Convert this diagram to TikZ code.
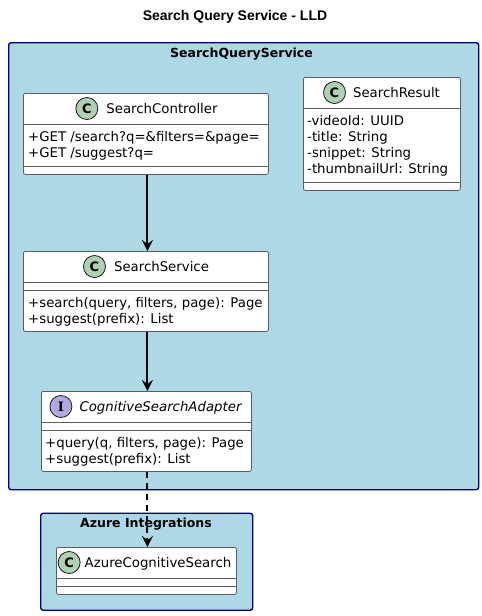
\documentclass[tikz,border=0pt]{standalone}
\usepackage{fontspec}
\setmainfont{DejaVu Sans}
\newfontfamily\titlefont{Liberation Sans}
\newfontfamily\iconserif{DejaVu Serif}
\usetikzlibrary{positioning,arrows.meta}
\definecolor{pkgfill}{HTML}{ADD8E6}
\definecolor{pkgline}{HTML}{000080}
\definecolor{classicon}{HTML}{ADD1B2}
\definecolor{ifaceicon}{HTML}{B4A7E5}
\definecolor{umlline}{HTML}{181818}

\begin{document}
\begin{tikzpicture}[x=1pt, y=-1pt, node distance=8pt]
        % Define styles
        \tikzstyle{package} = [rectangle, anchor=north west, rounded corners=2.5pt, draw=pkgline, line width=1.4pt, fill=pkgfill]
        \tikzstyle{pkglabel} = [inner sep=0pt, text height=9.2pt, text depth=0pt, font=\bfseries\fontsize{12.5}{14}\selectfont]
        \tikzstyle{classbox} = [rectangle, anchor=north west, rounded corners=2pt, draw=umlline!70, line width=0.8pt, fill=white]
        \tikzstyle{classname} = [inner sep=0pt, text height=9.7pt, text depth=0pt, font=\fontsize{13.3}{16}\selectfont]
        \tikzstyle{member} = [inner sep=0pt, anchor=base west, font=\fontsize{13.3}{16}\selectfont]
        \tikzstyle{cicon} = [circle, minimum size=22pt, inner sep=0pt, draw=umlline, line width=0.8pt, fill=classicon, font=\bfseries\fontsize{13}{13}\selectfont]
        \tikzstyle{iicon} = [cicon, fill=ifaceicon, font=\iconserif\bfseries\fontsize{13}{13}\selectfont]
        \tikzstyle{divider} = [draw=umlline!70, line width=0.8pt]
        \tikzstyle{arrow} = [line width=1.9pt, -{Stealth[length=11pt, width=11pt, inset=4pt]}]

        \useasboundingbox (0,0) rectangle (482,616);

        % Title
        \node [font=\titlefont\bfseries\fontsize{14}{16}\selectfont] (title) at (235,17) {Search Query Service - LLD};

        % Packages
        \node [package, minimum width=470, minimum height=447] (sqs) at (8,42) {};
        \node [pkglabel] (sqslabel) at (241.5,53) {SearchQueryService};
        \node [package, minimum width=212, minimum height=97] (azure) at (40,512.5) {};
        \node [pkglabel] (azurelabel) at (146,523) {Azure Integrations};

        % SearchController
        \node [classbox, minimum width=245, minimum height=81] (ctrl) at (23,93) {};
        \node [classname] (ctrlname) at (162,108.5) {SearchController};
        \node [cicon, left=of ctrlname] (ctrlicon) {C};
        \draw [divider] ([yshift=-31]ctrl.north west) -- ([yshift=-31]ctrl.north east);
        \draw [divider] ([yshift=8]ctrl.south west) -- ([yshift=8]ctrl.south east);
        \node [member] (ctrlf1) at (28,141) {+GET /search?q=\&filters=\&page=};
        \node [member] (ctrlf2) at (28,157) {+GET /suggest?q=};

        % SearchResult
        \node [classbox, minimum width=157, minimum height=113] (result) at (303,77) {};
        \node [classname] (resultname) at (396.5,92.5) {SearchResult};
        \node [cicon, left=7pt of resultname] (resulticon) {C};
        \draw [divider] ([yshift=-31]result.north west) -- ([yshift=-31]result.north east);
        \draw [divider] ([yshift=8]result.south west) -- ([yshift=8]result.south east);
        \node [member] (resultf1) at (307,125) {-videoId: UUID};
        \node [member] (resultf2) at (307,141) {-title: String};
        \node [member] (resultf3) at (307,157) {-snippet: String};
        \node [member] (resultf4) at (307,173) {-thumbnailUrl: String};

        % SearchService
        \node [classbox, minimum width=245, minimum height=80] (svc) at (23,251) {};
        \node [classname] (svcname) at (161.5,266.5) {SearchService};
        \node [cicon, left=of svcname] (svcicon) {C};
        \draw [divider] ([yshift=-31]svc.north west) -- ([yshift=-31]svc.north east);
        \draw [divider] ([yshift=-39]svc.north west) -- ([yshift=-39]svc.north east);
        \node [member] (svcm1) at (28,307) {+search(query, filters, page): Page};
        \node [member] (svcm2) at (28,323) {+suggest(prefix): List};

        % CognitiveSearchAdapter
        \node [classbox, minimum width=210, minimum height=80] (adapter) at (41,391) {};
        \node [classname, font=\itshape\fontsize{13.3}{16}\selectfont] (adaptername) at (160.5,406.5) {CognitiveSearchAdapter};
        \node [iicon, left=7pt of adaptername] (adaptericon) {I};
        \draw [divider] ([yshift=-31]adapter.north west) -- ([yshift=-31]adapter.north east);
        \draw [divider] ([yshift=-39]adapter.north west) -- ([yshift=-39]adapter.north east);
        \node [member] (adapterm1) at (45,447) {+query(q, filters, page): Page};
        \node [member] (adapterm2) at (45,463) {+suggest(prefix): List};

        % AzureCognitiveSearch
        \node [classbox, minimum width=180, minimum height=47] (acs) at (56,547) {};
        \node [classname] (acsname) at (158,562.5) {AzureCognitiveSearch};
        \node [cicon, left=4pt of acsname] (acsicon) {C};
        \draw [divider] ([yshift=-31]acs.north west) -- ([yshift=-31]acs.north east);
        \draw [divider] ([yshift=-39]acs.north west) -- ([yshift=-39]acs.north east);

        % Arrows
        \draw [arrow] ([xshift=1.5]ctrl.south) -- ([xshift=1.5]ctrl.south |- svc.north);
        \draw [arrow] ([xshift=1.5]svc.south) -- ([xshift=1.5]svc.south |- adapter.north);
        \draw [arrow, dash pattern=on 6pt off 5pt] ([xshift=1]adapter.south) -- ([xshift=1]adapter.south |- acs.north);
    \end{tikzpicture}
\end{document}
